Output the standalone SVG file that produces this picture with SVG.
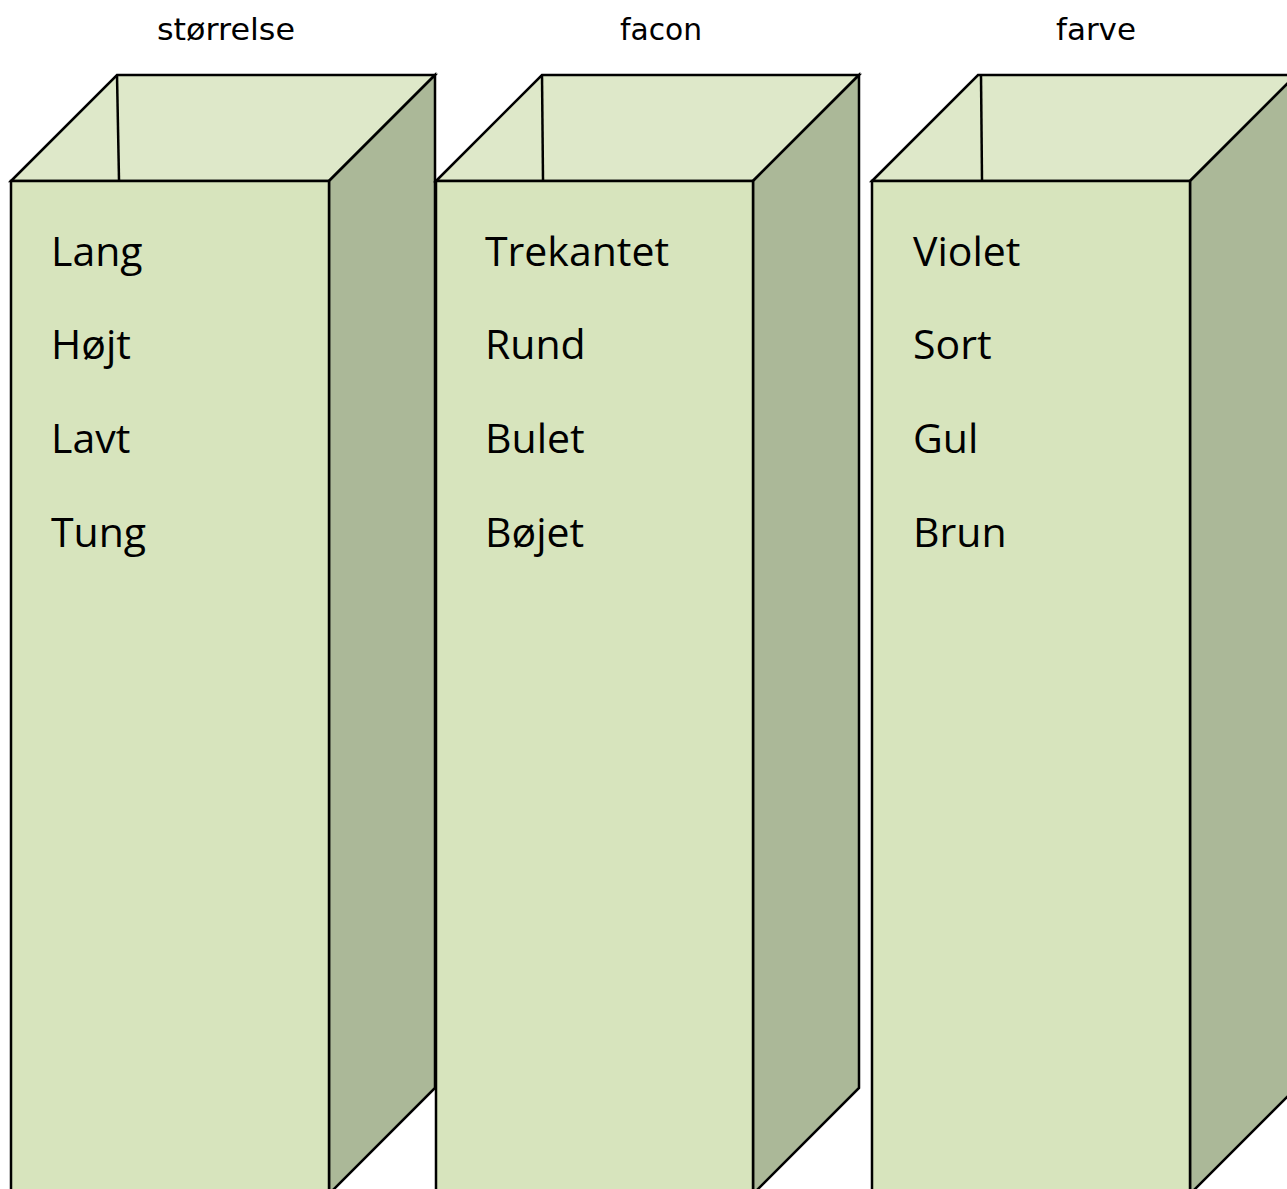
<svg xmlns="http://www.w3.org/2000/svg" width="1287" height="1189" viewBox="0 0 1287 1189">
<style>
.top{fill:#DEE8C9;stroke:#000;stroke-width:2.5;stroke-linejoin:miter}
.side{fill:#ABB898;stroke:#000;stroke-width:2.5}
.front{fill:#D7E4BD;stroke:#000;stroke-width:2.5}
.edge{stroke:#000;stroke-width:2.5;fill:none}
.title{font-family:"DejaVu Sans",sans-serif;font-size:30px;fill:#000;text-anchor:middle}
.item{font-family:"Open Sans",sans-serif;font-size:41px;fill:#000}
</style>
<rect width="1287" height="1189" fill="#fff"/>
<g id="box-storrelse">
<polygon class="top" points="11,181 117,75 435,75 329,181"/>
<line class="edge" x1="117" y1="75" x2="119" y2="180"/>
<polygon class="side" points="329,181 435,75 435,1088 329,1194"/>
<rect class="front" x="11" y="181" width="318" height="1020"/>
<text class="title" x="226" y="40" textLength="138" lengthAdjust="spacingAndGlyphs">størrelse</text>
<text class="item" x="51" y="266">Lang</text>
<text class="item" x="51" y="359">Højt</text>
<text class="item" x="51" y="453">Lavt</text>
<text class="item" x="51" y="547">Tung</text>
</g>
<g id="box-facon">
<polygon class="top" points="436,181 542,75 859,75 753,181"/>
<line class="edge" x1="542" y1="75" x2="543" y2="180"/>
<polygon class="side" points="753,181 859,75 859,1088 753,1194"/>
<rect class="front" x="436" y="181" width="317" height="1020"/>
<text class="title" x="661" y="40" textLength="82" lengthAdjust="spacingAndGlyphs">facon</text>
<text class="item" x="485" y="266">Trekantet</text>
<text class="item" x="485" y="359">Rund</text>
<text class="item" x="485" y="453">Bulet</text>
<text class="item" x="485" y="547">Bøjet</text>
</g>
<g id="box-farve">
<polygon class="top" points="872,181 978,75 1296,75 1190,181"/>
<line class="edge" x1="981" y1="75" x2="982" y2="180"/>
<polygon class="side" points="1190,181 1296,75 1296,1088 1190,1194"/>
<rect class="front" x="872" y="181" width="318" height="1020"/>
<text class="title" x="1096" y="40" textLength="80" lengthAdjust="spacingAndGlyphs">farve</text>
<text class="item" x="913" y="266">Violet</text>
<text class="item" x="913" y="359">Sort</text>
<text class="item" x="913" y="453">Gul</text>
<text class="item" x="913" y="547">Brun</text>
</g>
<g id="connectors"/>
</svg>
